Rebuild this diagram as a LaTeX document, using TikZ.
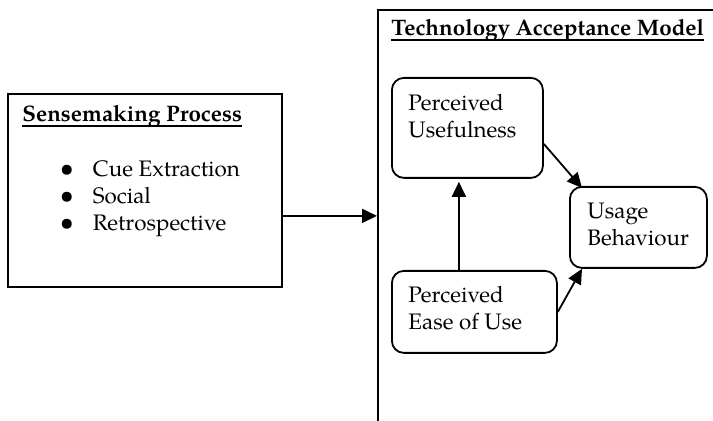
\documentclass[tikz,border=0pt]{standalone}
\usepackage{fontspec}
\setmainfont{TeX Gyre Pagella}
\usetikzlibrary{arrows.meta,calc}
\newcommand\myul[1]{\setbox0\hbox{#1}\rlap{\rule[-2.4pt]{\wd0}{0.85pt}}\box0}
\newcommand\mybul{\makebox[16.5pt][l]{\fontsize{12.5}{12.5}\selectfont\textbullet}}
\tikzset{
  box/.style={draw, line width=0.9pt, inner sep=0pt, anchor=north west},
  rbox/.style={box, rounded corners=6pt},
  txt/.style={anchor=base west, inner sep=0pt, font=\fontsize{11.2}{13.5}\selectfont},
  conn/.style={line width=0.9pt, -{Triangle[length=7.5pt,width=7pt]}}
}
\begin{document}
\begin{tikzpicture}[x=0.5pt,y=-0.5pt]
\useasboundingbox (0,0) rectangle (713,421);
\clip (0,0) rectangle (713,421);
% outer boxes
\node[box, minimum width=137pt, minimum height=96.5pt] (sm) at (7,93) {};
\node[box, minimum width=190pt, minimum height=220pt] (tam) at (377,9) {};
% titles
\node[txt] (smtitle) at (22,122) {\myul{\textbf{Sensemaking Process}}};
\node[txt] (tamtitle) at (391,36) {\myul{\textbf{Technology Acceptance Model}}};
% bullets
\node[txt] (b1) at (59.5,177) {\mybul Cue Extraction};
\node[txt] (b2) at (59.5,204) {\mybul Social};
\node[txt] (b3) at (59.5,231) {\mybul Retrospective};
% inner boxes
\node[rbox, minimum width=75.5pt, minimum height=50pt] (pu) at (391,77) {};
\node[rbox, minimum width=82.5pt, minimum height=41pt] (peou) at (391,270) {};
\node[rbox, minimum width=68.5pt, minimum height=40.5pt] (ub) at (569,186) {};
% box texts
\node[txt] (pu1) at (408,111) {Perceived};
\node[txt] (pu2) at (408,138) {Usefulness};
\node[txt] (pe1) at (408,303) {Perceived};
\node[txt] (pe2) at (408,330) {Ease of Use};
\node[txt] (ub1) at (587,219) {Usage};
\node[txt] (ub2) at (587,246) {Behaviour};
% connectors
\coordinate (smout) at ([yshift=-12.75pt]sm.east);
\draw[conn] (smout) -- (tam.west |- smout);
\coordinate (puin) at ([xshift=-4.25pt]pu.south);
\draw[conn, shorten >=1.5pt] (peou.north -| puin) -- (puin);
\draw[conn] ([yshift=-8pt]pu.east) -- ([xshift=6.5pt,yshift=-1pt]ub.north west);
\draw[conn] (peou.east) -- ([xshift=6.5pt]ub.south west);
\end{tikzpicture}
\end{document}
